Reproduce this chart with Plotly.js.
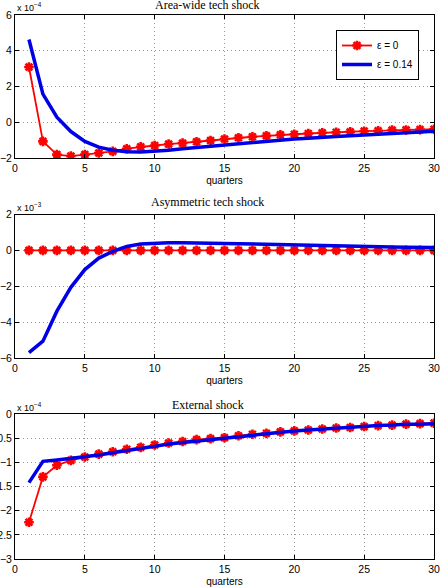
<!DOCTYPE html>
<html>
<head>
<meta charset="utf-8">
<script src="https://cdn.plot.ly/plotly-3.0.1.min.js"></script>
<style>
  html, body { margin: 0; padding: 0; background: #fff; }
  #chart { width: 440px; height: 588px; }
</style>
</head>
<body>
<div id="chart"></div>
<script>
// Impulse responses over 30 quarters for two values of epsilon.
const quarters = Array.from({length: 30}, (_, i) => i + 1);

// Area-wide tech shock, in units of 1e-4
const areaEps0 = [3.09, -1.07, -1.81, -1.89, -1.81, -1.72, -1.63, -1.48, -1.37, -1.30,
                  -1.22, -1.17, -1.09, -1.02, -0.94, -0.87, -0.81, -0.76, -0.70, -0.67,
                  -0.63, -0.59, -0.56, -0.54, -0.50, -0.48, -0.44, -0.43, -0.41, -0.39];
const areaEps014 = [4.63, 1.57, 0.28, -0.52, -1.07, -1.39, -1.57, -1.65, -1.67, -1.63,
                    -1.56, -1.48, -1.41, -1.33, -1.26, -1.19, -1.11, -1.06, -1.00, -0.94,
                    -0.89, -0.83, -0.80, -0.76, -0.70, -0.67, -0.63, -0.59, -0.56, -0.50];

// Asymmetric tech shock, in units of 1e-3
const asymEps0 = [0, 0, 0, 0, 0, 0, 0, 0, 0, 0,
                  0, 0, 0, 0, 0, 0, 0, 0, 0, 0,
                  0, 0, 0, 0, 0, 0, 0, 0, 0, 0];
const asymEps014 = [-5.70, -5.06, -3.39, -2.06, -1.07, -0.43, -0.06, 0.22, 0.35, 0.41,
                    0.43, 0.43, 0.43, 0.41, 0.39, 0.37, 0.35, 0.33, 0.31, 0.30,
                    0.28, 0.26, 0.24, 0.22, 0.20, 0.20, 0.19, 0.18, 0.17, 0.16];

// External shock, in units of 1e-4
const extEps0 = [-2.24, -1.30, -1.06, -0.96, -0.89, -0.83, -0.78, -0.73, -0.69, -0.64,
                 -0.60, -0.57, -0.53, -0.51, -0.49, -0.45, -0.42, -0.40, -0.37, -0.35,
                 -0.33, -0.31, -0.29, -0.28, -0.26, -0.24, -0.23, -0.21, -0.20, -0.19];
const extEps014 = [-1.42, -0.98, -0.95, -0.92, -0.89, -0.85, -0.80, -0.76, -0.72, -0.67,
                   -0.62, -0.59, -0.55, -0.52, -0.49, -0.46, -0.43, -0.40, -0.37, -0.35,
                   -0.33, -0.31, -0.29, -0.28, -0.26, -0.24, -0.23, -0.21, -0.21, -0.20];

const seriesNames = ['ε = 0', 'ε = 0.14'];
const panelTitles = ['Area-wide tech shock', 'Asymmetric tech shock', 'External shock'];
const exponents = ['x 10<sup>−4</sup>', 'x 10<sup>−3</sup>', 'x 10<sup>−4</sup>'];
const yRanges = [[-2, 6], [-6, 2], [-3, 0]];
const yDticks = [2, 2, 0.5];

const panels = [[areaEps0, areaEps014], [asymEps0, asymEps014], [extEps0, extEps014]];

const RED = '#ff0000';
const BLUE = '#0000e6';
const sans = 'Liberation Sans, Arial, sans-serif';
const serif = 'Liberation Serif, Times New Roman, serif';

const traces = [];
panels.forEach((pair, i) => {
  const xa = i === 0 ? 'x' : 'x' + (i + 1);
  const ya = i === 0 ? 'y' : 'y' + (i + 1);
  traces.push({
    x: quarters, y: pair[0], xaxis: xa, yaxis: ya,
    name: seriesNames[0], showlegend: i === 0, legendgroup: 'e0',
    mode: 'lines+markers', type: 'scatter',
    line: {color: RED, width: 1.8},
    marker: {symbol: 'asterisk-open', size: 8, color: RED, line: {color: RED, width: 2.6}}
  });
  traces.push({
    x: quarters, y: pair[1], xaxis: xa, yaxis: ya,
    name: seriesNames[1], showlegend: i === 0, legendgroup: 'e1',
    mode: 'lines', type: 'scatter',
    line: {color: BLUE, width: 3.5}
  });
});

// Pixel layout helpers: plot region spans 15..559 vertically
const plotTop = 15, plotBottom = 559, pageH = 588;
const span = plotBottom - plotTop;
const py = p => 1 - (p - plotTop) / span;
const bands = [[15, 158], [214.5, 358], [414, 559]];
const titleY = [5, 202, 405];
const expY = [7, 207, 407];

const layout = {
  width: 440, height: 588,
  margin: {l: 15, r: 6, t: plotTop, b: pageH - plotBottom},
  paper_bgcolor: '#fff', plot_bgcolor: '#fff',
  font: {family: sans, size: 10, color: '#000'},
  showlegend: true,
  legend: {
    x: (419 - 15) / 419, xanchor: 'right', y: py(30), yanchor: 'top',
    bgcolor: '#fff', bordercolor: '#000', borderwidth: 1,
    font: {family: sans, size: 10}, tracegroupgap: 0, itemwidth: 30,
    tracegroupgap: 0
  },
  annotations: []
};

panels.forEach((_, i) => {
  const suf = i === 0 ? '' : String(i + 1);
  layout['xaxis' + suf] = {
    anchor: 'y' + suf, domain: [0, 1], range: [0, 30], dtick: 5, tick0: 0,
    showline: true, linecolor: '#000', linewidth: 1, mirror: 'allticks',
    ticks: 'inside', ticklen: 4, tickcolor: '#000',
    showgrid: true, gridcolor: '#999', griddash: '1px,3px', gridwidth: 1,
    zeroline: false, tickfont: {family: sans, size: 10.5},
    title: {text: 'quarters', font: {family: sans, size: 10}, standoff: 4}
  };
  layout['yaxis' + suf] = {
    anchor: 'x' + suf, domain: [py(bands[i][1]), py(bands[i][0])],
    range: yRanges[i], dtick: yDticks[i], tick0: 0,
    showline: true, linecolor: '#000', linewidth: 1, mirror: 'allticks',
    ticks: 'inside', ticklen: 4, tickcolor: '#000',
    showgrid: true, gridcolor: '#999', griddash: '1px,3px', gridwidth: 1,
    zeroline: false, tickfont: {family: sans, size: 10.5}
  };
  layout.annotations.push({
    text: panelTitles[i], xref: 'paper', yref: 'paper',
    x: 0.46, y: py(titleY[i]), xanchor: 'center', yanchor: 'middle',
    showarrow: false, font: {family: serif, size: 12}
  });
  layout.annotations.push({
    text: exponents[i], xref: 'paper', yref: 'paper',
    x: 0, y: py(expY[i]), xanchor: 'left', yanchor: 'middle',
    showarrow: false, font: {family: sans, size: 9}
  });
});

Plotly.newPlot('chart', traces, layout, {displayModeBar: false, staticPlot: true});
</script>
</body>
</html>
